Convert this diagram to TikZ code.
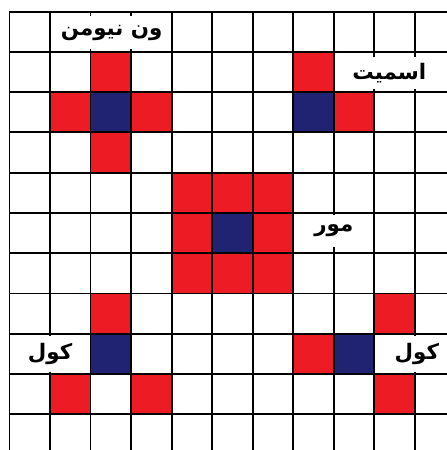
\documentclass[tikz,border=0pt]{standalone}
\usepackage{fontspec}
\TeXXeTstate=1
\newfontfamily\arabicfont[Script=Arabic]{DejaVu Sans}
\definecolor{cellred}{HTML}{ED1C24}
\definecolor{cellblue}{HTML}{1F2372}

\begin{document}
\begin{tikzpicture}[
  x=1cm,y=-0.993cm,
  redcell/.style={fill=cellred},
  bluecell/.style={fill=cellblue},
  gridline/.style={line width=1.3pt,black},
  tag/.style={fill=white,inner sep=2pt,minimum height=8mm,font=\arabicfont\bfseries\fontsize{15}{17}\selectfont}
]
  \useasboundingbox (-0.234,-0.29) rectangle (10.79,10.89);

  % coloured cells
  \foreach \c/\r in {2/1,1/2,3/2,2/3, 7/1,8/2, 4/4,5/4,6/4,4/5,6/5,4/6,5/6,6/6,
                     2/7,1/9,3/9, 9/7,7/8,9/9}
    \fill[redcell] (\c,\r) rectangle ++(1,1);
  \foreach \c/\r in {2/2,7/2,5/5,2/8,8/8}
    \fill[bluecell] (\c,\r) rectangle ++(1,1);

  % grid
  \foreach \r in {0,...,10}
    \draw[gridline] (0,\r) -- (10.79,\r);
  \foreach \c in {0,...,10}
    \draw[gridline] (\c,0) -- (\c,10.89);

  % labels
  \node[tag] (vonneumann) at (2.52,0.52) {\beginR ون نیومن\endR};
  \node[tag] (smith) at (9.37,1.52) {\beginR اسمیت\endR};
  \node[tag] (moore) at (8.0,5.45) {\beginR مور\endR};
  \node[tag,minimum height=9mm] (coleleft) at (1.0,8.5) {\beginR کول\endR};
  \node[tag,minimum height=9mm] (coleright) at (10.05,8.5) {\beginR کول\endR};
\end{tikzpicture}
\end{document}
